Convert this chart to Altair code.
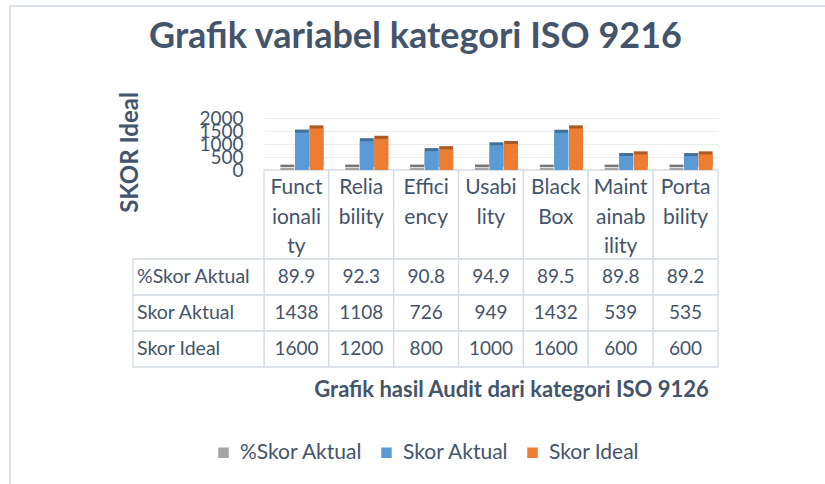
import altair as alt
import pandas as pd

categories = ["Functionality", "Reliability", "Efficiency", "Usability",
              "Black Box", "Maintainability", "Portability"]
header_lines = ["Funct|ionali|ty", "Relia|bility", "Effici|ency", "Usabi|lity",
                "Black|Box", "Maint|ainab|ility", "Porta|bility"]
series = ["%Skor Aktual", "Skor Aktual", "Skor Ideal"]
pct_aktual = [89.9, 92.3, 90.8, 94.9, 89.5, 89.8, 89.2]
skor_aktual = [1438, 1108, 726, 949, 1432, 539, 535]
skor_ideal = [1600, 1200, 800, 1000, 1600, 600, 600]
y_ticks = [0, 500, 1000, 1500, 2000]

values = {"%Skor Aktual": pct_aktual, "Skor Aktual": skor_aktual, "Skor Ideal": skor_ideal}
rows = []
for i, cat in enumerate(categories):
    for s in series:
        v = values[s][i]
        rows.append({"Kategori": cat, "Header": header_lines[i], "Seri": s,
                     "Nilai": v, "Teks": str(v)})
df = pd.DataFrame(rows)
hdr = pd.DataFrame({"Kategori": categories, "Header": header_lines})
lbl = pd.DataFrame({"Seri": series})

FONT = "Lato"
TXT = "#44546A"
LINE = "#D5DBE5"
colors = ["#A5A5A5", "#5B9BD5", "#ED7D31"]

x_axis = alt.Axis(labels=False, ticks=False, domain=False, grid=False,
                  title="Grafik hasil Audit dari kategori ISO 9126",
                  titleFontSize=22, titleFontWeight="bold", titleColor=TXT,
                  titleFont=FONT, titleX=247, titleY=22,
                  titleBaseline="middle", titleAlign="center")
x_enc = alt.X("Header:N", sort=header_lines,
              scale=alt.Scale(paddingInner=0, paddingOuter=0), axis=x_axis)
xoff = alt.XOffset("Seri:N", sort=series,
                   scale=alt.Scale(paddingInner=0.05, paddingOuter=0.75, align=0.75))
y_scale = alt.Scale(domain=[0, 2000], range=[0, -52])
color_enc = alt.Color("Seri:N", sort=series,
                      scale=alt.Scale(domain=series, range=colors),
                      legend=alt.Legend(orient="none", legendX=-51, legendY=272,
                                        direction="horizontal", title=None,
                                        symbolType="square", symbolSize=110,
                                        symbolStrokeWidth=0, labelFontSize=21,
                                        labelFont=FONT, labelColor=TXT,
                                        columnPadding=13, labelOffset=6))
y_axis = alt.Axis(values=y_ticks, format="d", labelFontSize=19, labelColor=TXT,
                  labelFont=FONT, labelPadding=21, labelOverlap=False,
                  ticks=False, domain=False, grid=True, gridColor="#ECECEC",
                  title="SKOR Ideal", titleFontSize=24, titleFontWeight="bold",
                  titleColor=TXT, titleFont=FONT, titleX=-134, titleY=-18,
                  titleBaseline="middle", titleAlign="center", titleAngle=270)

base = alt.Chart(df)

bars_depth = base.mark_bar(xOffset=3, yOffset=-3).encode(
    x=x_enc, xOffset=xoff,
    y=alt.Y("Nilai:Q", scale=y_scale, axis=None), color=color_enc)
bars_shade = base.mark_bar(xOffset=3, yOffset=-3, color="black", opacity=0.28).encode(
    x=x_enc, xOffset=xoff,
    y=alt.Y("Nilai:Q", scale=y_scale, axis=None))
bars = base.mark_bar().encode(
    x=x_enc, xOffset=xoff,
    y=alt.Y("Nilai:Q", scale=y_scale, axis=y_axis), color=color_enc)

row_scale = alt.Scale(domain=series, range=[89, 197], paddingInner=0, paddingOuter=0)

hdr_cells = alt.Chart(hdr).mark_rect(fill="white", stroke=LINE, strokeWidth=1.3).encode(
    x=x_enc, y=alt.value(0), y2=alt.value(89))
hdr_text = alt.Chart(hdr).mark_text(lineBreak="|", lineHeight=29.5, baseline="alphabetic",
                                    fontSize=21, font=FONT, color=TXT).encode(
    x=x_enc, y=alt.value(24), text="Header:N")
cells = base.mark_rect(fill="white", stroke=LINE, strokeWidth=1.3).encode(
    x=x_enc, y=alt.Y("Seri:N", sort=series, scale=row_scale, axis=None))
cell_text = base.mark_text(fontSize=19, font=FONT, color=TXT, baseline="middle").encode(
    x=x_enc, y=alt.Y("Seri:N", sort=series, scale=row_scale, axis=None), text="Teks:N")
lbl_cells = alt.Chart(lbl).mark_rect(fill="white", stroke=LINE, strokeWidth=1.3).encode(
    x=alt.value(-131), x2=alt.value(0),
    y=alt.Y("Seri:N", sort=series, scale=row_scale, axis=None))
lbl_text = alt.Chart(lbl).mark_text(fontSize=19.5, font=FONT, color=TXT, align="left",
                                    baseline="middle").encode(
    x=alt.value(-127), y=alt.Y("Seri:N", sort=series, scale=row_scale, axis=None),
    text="Seri:N")

border_top = alt.Chart(lbl).mark_rule(color="#DCE1EA", strokeWidth=2).encode(
    x=alt.value(-254), x2=alt.value(561), y=alt.value(-164))
border_left = alt.Chart(lbl).mark_rule(color="#DCE1EA", strokeWidth=2).encode(
    x=alt.value(-254), y=alt.value(-164), y2=alt.value(314))

chart = alt.layer(
    border_top, border_left,
    hdr_cells, cells, lbl_cells, hdr_text, cell_text, lbl_text,
    bars_depth, bars_shade, bars,
).resolve_scale(y="independent").properties(
    width=454, height=197,
    autosize=alt.AutoSizeParams(type="none"),
    padding={"left": 264, "top": 170, "right": 107, "bottom": 117},
    background="white",
    title=alt.TitleParams("Grafik variabel kategori ISO 9216", fontSize=36, font=FONT,
                          fontWeight="bold", color=TXT, anchor="middle", frame="bounds",
                          offset=-79, baseline="alphabetic", dx=-2),
).configure_view(stroke=None)

chart.save("out.html", embed_options={"renderer": "svg", "actions": False})
